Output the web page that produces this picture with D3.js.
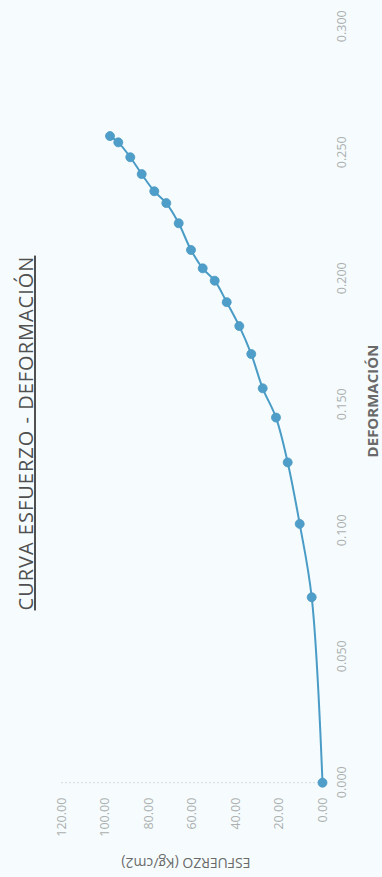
<!DOCTYPE html>
<html>
<head>
<meta charset="utf-8">
<script src="https://cdn.jsdelivr.net/npm/d3@7"></script>
<style>
  html, body { margin: 0; padding: 0; background: #f6fcfd; }
  svg { display: block; }
</style>
</head>
<body>
<script>
// Data read from the (rotated) reference
const deformacion = [0, 0.0736, 0.1027, 0.1271, 0.1449, 0.1565, 0.1701, 0.1812, 0.1907, 0.1992, 0.2041, 0.2114, 0.2220, 0.2300, 0.2347, 0.2415, 0.2482, 0.2541, 0.2566];
const esfuerzo = [0, 4.96, 10.46, 15.97, 21.34, 27.44, 32.68, 38.18, 43.96, 49.47, 54.98, 60.35, 65.99, 71.68, 77.19, 82.97, 88.20, 93.71, 97.52];
const xTicks = [0, 0.05, 0.10, 0.15, 0.20, 0.25, 0.30];
const yTicks = [0, 20, 40, 60, 80, 100, 120];
const titleText = "CURVA ESFUERZO - DEFORMACIÓN";
const xTitle = "DEFORMACIÓN";
const yTitle = "ESFUERZO (Kg/cm2)";

const W = 382, H = 877;
const svg = d3.select("body").append("svg").attr("width", W).attr("height", H);
svg.append("rect").attr("width", W).attr("height", H).attr("fill", "#f6fcfd");

// Chart drawn in an unrotated frame (877 wide x 382 tall) then rotated -90deg
const g = svg.append("g").attr("transform", `translate(0,${H}) rotate(-90)`);

const x = d3.scaleLinear().domain([0, 0.3]).range([94.3, 850.3]);
const y = d3.scaleLinear().domain([0, 120]).range([322.5, 61]);

// value axis line (faint dotted)
g.append("line")
  .attr("x1", x(0)).attr("x2", x(0))
  .attr("y1", y(120)).attr("y2", y(0))
  .attr("stroke", "#d6dcdc").attr("stroke-width", 1).attr("stroke-dasharray", "2,2");

const tickFont = "'Open Sans', sans-serif";

// X axis (deformación)
const xAxis = g.append("g").attr("transform", `translate(0,${y(0)})`)
  .call(d3.axisBottom(x).tickValues(xTicks).tickFormat(d3.format(".3f")).tickSize(0).tickPadding(15));
xAxis.select(".domain").remove();
xAxis.selectAll("text").attr("fill", "#acb0b1").style("font-family", tickFont).style("font-size", "12.5px");

// Y axis (esfuerzo)
const yAxis = g.append("g").attr("transform", `translate(${x(0)},0)`)
  .call(d3.axisLeft(y).tickValues(yTicks).tickFormat(d3.format(".2f")).tickSize(0).tickPadding(15));
yAxis.select(".domain").remove();
yAxis.selectAll("text").attr("fill", "#acb0b1").style("font-family", tickFont).style("font-size", "12.5px");

// Line
const pts = deformacion.map((d, i) => [d, esfuerzo[i]]);
g.append("path")
  .datum(pts)
  .attr("fill", "none")
  .attr("stroke", "#4a9cc7")
  .attr("stroke-width", 2)
  .attr("d", d3.line().x(d => x(d[0])).y(d => y(d[1])).curve(d3.curveCatmullRom.alpha(0.5)));

g.selectAll("circle.pt")
  .data(pts)
  .join("circle")
  .attr("class", "pt")
  .attr("cx", d => x(d[0]))
  .attr("cy", d => y(d[1]))
  .attr("r", 4.5)
  .attr("fill", "#4f9ec9")
  .attr("stroke", "#4a98c2").attr("stroke-width", 0.8);

// Title
g.append("text")
  .attr("x", 444).attr("y", 33)
  .attr("text-anchor", "middle")
  .attr("fill", "#505050")
  .style("font-family", "'Open Sans', sans-serif")
  .style("font-size", "20px")
  .style("letter-spacing", "1px")
  .style("text-decoration", "underline")
  .text(titleText);

// X axis title
g.append("text")
  .attr("x", 476).attr("y", 378)
  .attr("text-anchor", "middle")
  .attr("fill", "#6a6a6a")
  .style("font-family", "'Open Sans', sans-serif")
  .style("font-size", "15px")
  .style("font-weight", "bold")
  .text(xTitle);

// Y axis title
g.append("text")
  .attr("transform", "translate(19,186) rotate(-90)")
  .attr("text-anchor", "middle")
  .attr("fill", "#6a6a6a")
  .style("font-family", "'Open Sans', sans-serif")
  .style("font-size", "14px")
  .text(yTitle);
</script>
</body>
</html>
